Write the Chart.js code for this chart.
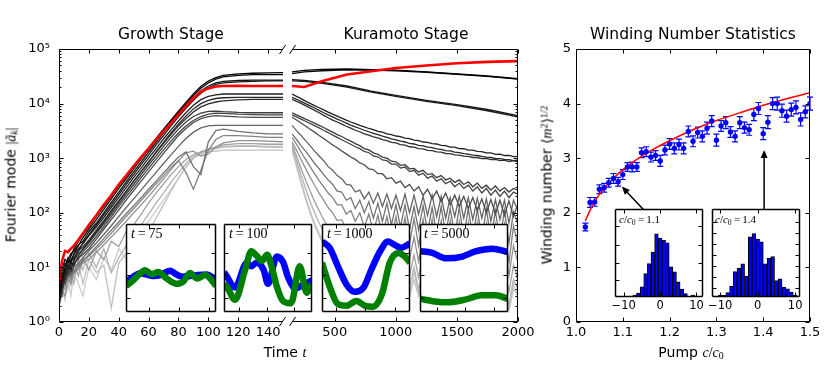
<!DOCTYPE html>
<html>
<head>
<meta charset="utf-8">
<script src="https://cdn.jsdelivr.net/npm/chart.js@4.4.1/dist/chart.umd.min.js"></script>
<style>
body { margin:0; background:#fff; }
#fig { position:relative; width:830px; height:371px; background:#fff; overflow:hidden; font-family:'DejaVu Sans', sans-serif; }
#fig canvas { position:absolute; left:0; top:0; }
.lab { position:absolute; white-space:nowrap; color:#000; z-index:10; line-height:1; }
.c { transform:translate(-50%,-50%); }
.rot { transform:translate(-50%,-50%) rotate(-90deg); }
.m { font-family:'Liberation Serif','DejaVu Serif',serif; }
.sub { font-size:.7em; position:relative; top:.25em; }
.sup { font-size:.7em; position:relative; top:-.45em; }
.title { font-size:15.5px; }
.ax { font-size:14px; }
.ins { font-size:14px; }
.hin { font-size:11px; }
</style>
</head>
<body>
<div id="fig">
  <div class="lab c title" style="left:171px;top:35px">Growth Stage</div>
  <div class="lab c title" style="left:406px;top:35px">Kuramoto Stage</div>
  <div class="lab c title" style="left:693px;top:35px">Winding Number Statistics</div>
  <div class="lab c ax" style="left:285px;top:352px">Time <span class="m"><i>t</i></span></div>
  <div class="lab c ax" style="left:691px;top:352px">Pump <span class="m"><i>c</i>/<i>c</i><span class="sub">0</span></span></div>
  <div class="lab rot ax" style="left:11px;top:185px">Fourier mode <span class="m">|<i>ã</i><span class="sub"><i>k</i></span>|</span></div>
  <div class="lab rot ax" style="left:547px;top:185px">Winding number <span class="m">⟨<i>m</i><span class="sup">2</span>⟩<span class="sup">1/2</span></span></div>
  <div class="lab m ins" style="left:131px;top:227px"><i>t</i>&thinsp;=&thinsp;75</div>
  <div class="lab m ins" style="left:229px;top:227px"><i>t</i>&thinsp;=&thinsp;100</div>
  <div class="lab m ins" style="left:327px;top:227px"><i>t</i>&thinsp;=&thinsp;1000</div>
  <div class="lab m ins" style="left:424px;top:227px"><i>t</i>&thinsp;=&thinsp;5000</div>
  <div class="lab m hin" style="left:619px;top:214px"><i>c</i>/<i>c</i><span class="sub">0</span>&thinsp;=&thinsp;1.1</div>
  <div class="lab m hin" style="left:715px;top:214px"><i>c</i>/<i>c</i><span class="sub">0</span>&thinsp;=&thinsp;1.4</div>
</div>
<script>
// ---- growth stage (t = 0..150) ----
const tGrow = [0, 2, 4, 6, 8, 10, 13, 16, 20, 25, 30, 35, 40, 45, 50, 55, 60, 65, 70, 75, 80, 85, 90, 95, 100, 105, 110, 120, 130, 140, 150];
const redGrow = [5, 13, 20, 19, 22, 25, 32, 42, 60, 90, 140, 210, 330, 480, 720, 1050, 1500, 2200, 3100, 4400, 6300, 9000, 12500, 16500, 19000, 20500, 21000, 21200, 21000, 21000, 21000];
const growthModes = [
  [4, 9, 14, 12, 16, 22, 30, 40, 55, 85, 130, 200, 310, 470, 700, 1050, 1550, 2300, 3400, 5000, 7300, 10500, 15000, 20500, 26000, 30000, 33000, 35000, 36000, 36500, 37000],
  [3, 6, 10, 15, 12, 18, 25, 35, 50, 75, 115, 180, 280, 420, 640, 960, 1450, 2150, 3200, 4700, 6800, 9800, 14000, 19000, 24000, 28000, 31000, 33000, 34000, 34000, 34000],
  [6, 10, 8, 14, 18, 20, 26, 30, 45, 65, 100, 155, 240, 370, 560, 850, 1300, 1950, 2900, 4300, 6300, 9000, 12500, 17000, 21000, 24000, 25500, 26500, 27000, 27000, 27000],
  [2.5, 5, 8, 11, 9, 14, 20, 28, 40, 60, 92, 140, 215, 330, 500, 760, 1150, 1750, 2600, 3900, 5700, 8200, 11500, 15500, 19500, 22500, 24000, 25000, 25500, 26000, 26000],
  [3.5, 7, 12, 10, 14, 17, 22, 27, 38, 55, 82, 125, 190, 290, 440, 660, 1000, 1500, 2250, 3300, 4800, 6800, 9300, 11800, 13500, 14500, 15000, 15000, 15000, 15000, 15000],
  [2, 4, 7, 9, 12, 11, 16, 22, 30, 45, 68, 105, 160, 245, 375, 570, 860, 1300, 1950, 2900, 4200, 5900, 8000, 10000, 11500, 12400, 12800, 13000, 13000, 13000, 13000],
  [5, 8, 6, 10, 13, 15, 20, 24, 32, 48, 72, 110, 165, 250, 380, 570, 850, 1270, 1880, 2750, 3900, 5300, 7000, 8700, 9900, 10700, 11200, 11700, 12000, 12000, 12000],
  [3, 5, 9, 7, 10, 13, 18, 21, 28, 42, 63, 95, 145, 220, 330, 500, 750, 1100, 1650, 2400, 3400, 4600, 5800, 6700, 7200, 7300, 7100, 6900, 6800, 6800, 6800],
  [2.5, 6, 5, 8, 11, 12, 14, 19, 25, 37, 56, 85, 130, 195, 290, 440, 650, 960, 1420, 2050, 2900, 3900, 4900, 5800, 6400, 6700, 6600, 6400, 6300, 6200, 6200],
  [4, 3, 7, 9, 8, 11, 15, 17, 22, 33, 50, 75, 112, 170, 255, 380, 560, 830, 1230, 1800, 2600, 3500, 4500, 5300, 5800, 6000, 5900, 5700, 5600, 5600, 5600],
  [3, 7, 5, 9, 7, 10, 12, 15, 20, 28, 40, 58, 85, 125, 180, 260, 380, 550, 800, 1150, 1650, 2300, 3000, 3600, 3900, 4000, 4000, 4000, 4000, 4000, 4000],
  [2, 5, 8, 6, 9, 8, 11, 13, 17, 24, 34, 48, 68, 96, 135, 190, 270, 380, 540, 760, 1050, 1300, 700, 500, 2000, 3200, 3400, 3100, 2900, 2800, 2800],
  [3, 4, 6, 9, 6, 9, 10, 14, 16, 22, 30, 42, 60, 85, 120, 170, 240, 340, 480, 680, 900, 550, 270, 600, 1400, 2200, 2600, 2600, 2500, 2400, 2400],
  [2, 4, 3, 6, 5, 8, 9, 12, 14, 19, 26, 36, 50, 70, 100, 140, 200, 290, 420, 620, 900, 1250, 1350, 1100, 1200, 1600, 1900, 2100, 2100, 2050, 2000],
  [2.5, 6, 4, 10, 5, 12, 7, 15, 9, 20, 14, 30, 24, 45, 60, 95, 150, 230, 340, 500, 700, 950, 1150, 1300, 1450, 1600, 1750, 1850, 1850, 1800, 1800],
  [3, 7, 4, 12, 8, 5, 14, 9, 18, 10, 22, 8, 15, 25, 40, 60, 95, 150, 230, 360, 540, 800, 1050, 1250, 1400, 1500, 1600, 1650, 1650, 1600, 1600],
  [2, 3, 8, 4, 10, 6, 12, 5, 14, 8, 11, 1.8, 12, 18, 15, 28, 45, 80, 140, 250, 430, 700, 1000, 1200, 1300, 1350, 1400, 1400, 1400, 1400, 1400],
  [1.8, 4, 2.5, 6, 3, 8, 5, 3, 10, 6, 15, 9, 22, 14, 30, 45, 70, 110, 170, 270, 430, 680, 1000, 1300, 1500, 1600, 1650, 1700, 1700, 1650, 1650]
];

// ---- Kuramoto stage (t = 150..2000) ----
const tKuraCoarse = [150, 250, 400, 600, 800, 1000, 1250, 1500, 1750, 2000];
const redKura = [21000, 20200, 26000, 34000, 39000, 45000, 50000, 55000, 58000, 60000];
const kuraSmooth = [
  [38000, 40500, 42500, 43000, 42000, 41000, 38000, 35000, 32000, 28500],
  [35500, 38000, 40000, 41500, 41000, 40000, 37500, 34500, 31500, 28000],
  [27500, 26500, 24500, 21000, 17000, 14200, 11500, 9600, 7800, 6000],
  [26000, 25500, 23500, 20000, 16300, 13600, 11000, 9200, 7400, 5700]
];
const tKuraFine = [150, 187, 224, 261, 298, 335, 372, 409, 446, 483, 520, 557, 594, 631, 668, 705, 742, 779, 816, 853, 890, 927, 964, 1001, 1038, 1075, 1112, 1149, 1186, 1223, 1260, 1297, 1334, 1371, 1408, 1445, 1482, 1519, 1556, 1593, 1630, 1667, 1704, 1741, 1778, 1815, 1852, 1889, 1926, 1963, 2000];
const kuraFine = [
  [15000, 13600, 12300, 11100, 10100, 9200, 8400, 7700, 7000, 6400, 5900, 5400, 5000, 4600, 4300, 4000, 3750, 3500, 3350, 3100, 3000, 2800, 2700, 2550, 2480, 2330, 2280, 2150, 2100, 1980, 1950, 1850, 1820, 1720, 1700, 1600, 1590, 1500, 1490, 1400, 1400, 1330, 1320, 1250, 1250, 1180, 1190, 1120, 1130, 1070, 1080],
  [13000, 12000, 11000, 10000, 9100, 8300, 7500, 6800, 6200, 5700, 5200, 4800, 4400, 4050, 3750, 3500, 3250, 3050, 2850, 2700, 2530, 2400, 2260, 2170, 2050, 1980, 1870, 1820, 1720, 1680, 1590, 1560, 1480, 1450, 1380, 1360, 1290, 1270, 1210, 1190, 1140, 1120, 1080, 1050, 1030, 990, 980, 950, 940, 900, 920],
  [12000, 11000, 10100, 9200, 8300, 7500, 6800, 6100, 5500, 5000, 4600, 4200, 3850, 3550, 3250, 3050, 2800, 2650, 2450, 2350, 2180, 2100, 1950, 1900, 1780, 1730, 1620, 1600, 1500, 1480, 1390, 1380, 1300, 1290, 1220, 1210, 1150, 1140, 1090, 1080, 1030, 1030, 980, 990, 940, 950, 900, 920, 870, 900, 880],
  [6800, 6200, 5700, 5200, 4800, 4400, 4000, 3650, 3300, 3000, 2700, 2500, 2250, 2050, 1850, 1700, 1500, 1420, 1250, 1180, 1050, 1000, 880, 860, 740, 760, 640, 650, 560, 600, 500, 520, 440, 480, 400, 430, 360, 400, 330, 370, 300, 350, 280, 320, 260, 310, 250, 290, 240, 280, 260],
  [6200, 5700, 5200, 4750, 4350, 3950, 3600, 3250, 2950, 2650, 2400, 2180, 1980, 1800, 1620, 1500, 1330, 1260, 1100, 1060, 930, 900, 780, 780, 660, 690, 570, 600, 490, 530, 430, 470, 380, 420, 340, 380, 300, 350, 280, 320, 250, 300, 230, 280, 210, 260, 200, 250, 190, 240, 220],
  [5600, 5000, 4400, 3900, 3400, 3000, 2600, 2300, 2000, 1750, 1550, 1350, 1200, 1050, 950, 820, 760, 640, 620, 520, 520, 420, 440, 350, 380, 290, 330, 250, 300, 210, 270, 180, 250, 160, 230, 140, 210, 130, 200, 120, 190, 110, 180, 100, 175, 95, 170, 90, 165, 85, 150],
  [4000, 3200, 2600, 2100, 1700, 1350, 1100, 900, 700, 600, 480, 420, 330, 320, 240, 260, 180, 240, 150, 230, 130, 220, 120, 210, 110, 220, 100, 210, 95, 200, 90, 210, 85, 200, 80, 190, 85, 200, 80, 190, 75, 185, 80, 180, 70, 175, 75, 170, 65, 170, 110],
  [2800, 2200, 1700, 1350, 1050, 800, 640, 500, 400, 330, 250, 240, 170, 190, 120, 170, 100, 160, 80, 150, 70, 150, 60, 140, 55, 140, 50, 130, 48, 135, 45, 125, 42, 130, 40, 120, 38, 125, 36, 120, 35, 115, 34, 118, 32, 110, 30, 112, 28, 105, 60],
  [2400, 1800, 1300, 950, 700, 520, 390, 300, 230, 190, 140, 140, 95, 110, 70, 100, 55, 95, 45, 90, 38, 85, 33, 85, 30, 80, 27, 78, 25, 75, 22, 75, 20, 70, 19, 70, 18, 68, 17, 65, 16, 65, 15, 62, 14, 60, 13, 60, 12, 58, 25],
  [2000, 1400, 950, 650, 450, 320, 230, 170, 125, 100, 72, 75, 50, 60, 38, 52, 30, 48, 25, 45, 21, 42, 18, 40, 16, 38, 14, 36, 13, 35, 12, 34, 11, 33, 10, 32, 9.5, 31, 9, 30, 8.5, 29, 8, 28, 7.5, 27, 7, 26, 7, 25, 12],
  [1800, 1100, 650, 400, 250, 160, 110, 75, 55, 45, 32, 38, 24, 30, 18, 26, 14, 24, 11, 22, 9.5, 20, 8.5, 19, 7.5, 18, 7, 17, 6.5, 16, 6, 16, 5.5, 15, 5, 14, 5, 14, 4.5, 13, 4.5, 13, 4, 12, 4, 12, 3.5, 11, 3.5, 11, 6],
  [1600, 900, 500, 280, 160, 100, 65, 45, 33, 26, 20, 22, 15, 18, 11, 15, 9, 14, 7, 13, 6, 12, 5.5, 11, 5, 10, 4.5, 10, 4, 9, 4, 9, 3.5, 8, 3.5, 8, 3, 8, 3, 7, 3, 7, 2.5, 7, 2.5, 6, 2.5, 6, 2, 6, 4],
  [1400, 700, 350, 180, 100, 60, 38, 26, 20, 16, 12, 14, 9, 11, 7, 10, 6, 9, 5, 8, 4.5, 8, 4, 7, 3.5, 7, 3, 6, 3, 6, 2.8, 6, 2.5, 5, 2.5, 5, 2.2, 5, 2, 5, 2, 4.5, 2, 4.5, 1.8, 4, 1.8, 4, 1.6, 4, 3],
  [1650, 800, 400, 200, 110, 65, 42, 30, 22, 18, 14, 16, 11, 13, 9, 12, 7, 11, 6, 10, 5, 9, 4.5, 9, 4, 8, 3.5, 8, 3.5, 7, 3, 7, 3, 6, 2.8, 6, 2.5, 6, 2.5, 5.5, 2.2, 5.5, 2.2, 5, 2, 5, 2, 5, 1.8, 5, 3]
];
const growthTicks = [0, 20, 40, 60, 80, 100, 120, 140];
const kuraTicks = [500, 1000, 1500, 2000];
const decadeTicks = [1, 10, 100, 1000, 10000, 100000];

// ---- spatial profiles in the insets (normalised) ----
const x75Blue = [0, .08, .16, .23, .30, .38, .45, .49, .54, .62, .71, .80, .90, .97, 1];
const y75Blue = [.34, .40, .44, .425, .41, .42, .455, .47, .44, .40, .41, .42, .425, .39, .37];
const x75Green = [0, .08, .16, .21, .29, .36, .43, .51, .56, .64, .71, .79, .88, 1];
const y75Green = [.295, .36, .44, .474, .43, .455, .40, .34, .32, .35, .444, .38, .42, .30];
const x100Blue = [0, .02, .125, .26, .31, .37, .45, .50, .60, .67, .73, .81, .90, 1];
const y100Blue = [.45, .425, .28, .56, .52, .56, .48, .32, .63, .57, .39, .27, .31, .36];
const x100Green = [0, .03, .125, .24, .31, .37, .43, .49, .54, .60, .67, .75, .78, .86, .94, 1];
const y100Green = [.31, .29, .14, .48, .69, .64, .58, .65, .52, .29, .125, .10, .14, .52, .22, .32];
const x1000Blue = [0, .087, .18, .28, .37, .47, .56, .66, .75, .83, .90, 1];
const y1000Blue = [.80, .73, .52, .31, .23, .275, .48, .69, .80, .76, .73, .78];
const x1000Green = [0, .087, .18, .28, .39, .49, .58, .68, .77, .87, .94, 1];
const y1000Green = [.56, .29, .09, .07, .125, .07, .06, .20, .56, .67, .63, .56];
const x5000Blue = [0, .13, .30, .48, .63, .82, 1];
const y5000Blue = [.69, .675, .61, .63, .69, .72, .68];
const x5000Green = [0, .17, .32, .51, .70, .86, 1];
const y5000Green = [.15, .12, .11, .14, .19, .19, .15];

// ---- winding number statistics ----
const pump = [1.02, 1.03, 1.04, 1.05, 1.06, 1.07, 1.08, 1.09, 1.10, 1.11, 1.12, 1.13, 1.14, 1.15, 1.16, 1.17, 1.18, 1.19, 1.20, 1.21, 1.22, 1.23, 1.24, 1.25, 1.26, 1.27, 1.28, 1.29, 1.30, 1.31, 1.32, 1.33, 1.34, 1.35, 1.36, 1.37, 1.38, 1.39, 1.40, 1.41, 1.42, 1.43, 1.44, 1.45, 1.46, 1.47, 1.48, 1.49, 1.50];
const winding = [1.74, 2.19, 2.20, 2.43, 2.46, 2.55, 2.63, 2.57, 2.70, 2.84, 2.84, 2.84, 3.10, 3.12, 3.02, 3.05, 2.95, 3.15, 3.26, 3.18, 3.25, 3.18, 3.49, 3.31, 3.47, 3.40, 3.55, 3.68, 3.33, 3.59, 3.65, 3.48, 3.40, 3.65, 3.56, 3.52, 3.80, 3.91, 3.45, 3.66, 4.00, 4.00, 3.87, 3.77, 3.89, 3.93, 3.71, 3.85, 4.00];
const windErr = [0.07, 0.09, 0.08, 0.08, 0.08, 0.08, 0.09, 0.08, 0.09, 0.08, 0.09, 0.08, 0.09, 0.09, 0.09, 0.09, 0.10, 0.09, 0.10, 0.10, 0.10, 0.10, 0.10, 0.10, 0.10, 0.10, 0.11, 0.10, 0.11, 0.10, 0.11, 0.10, 0.10, 0.11, 0.10, 0.10, 0.11, 0.11, 0.11, 0.12, 0.11, 0.12, 0.12, 0.11, 0.12, 0.12, 0.12, 0.11, 0.12];
const fitPump = [1.02, 1.03, 1.04, 1.06, 1.08, 1.10, 1.13, 1.16, 1.20, 1.25, 1.30, 1.35, 1.40, 1.45, 1.50];
const fitWinding = [1.85, 2.05, 2.21, 2.45, 2.63, 2.79, 2.98, 3.14, 3.32, 3.52, 3.69, 3.83, 3.97, 4.09, 4.20];
const pumpTicks = [1.0, 1.1, 1.2, 1.3, 1.4, 1.5];
const windTicks = [0, 1, 2, 3, 4, 5];

// ---- histograms of m ----
const bins11 = [-7, -6, -5, -4, -3, -2, -1, 0, 1, 2, 3, 4, 5, 6, 7, 8, 9];
const counts11 = [6, 11, 31, 71, 101, 136, 191, 178, 171, 164, 91, 76, 46, 24, 10, 0, 6];
const bins14 = [-10, -9, -8, -7, -6, -5, -4, -3, -2, -1, 0, 1, 2, 3, 4, 5, 6, 7, 8, 9, 10];
const counts14 = [5, 5, 13, 32, 77, 87, 100, 63, 182, 192, 175, 167, 100, 117, 122, 50, 55, 30, 25, 15, 5];
const histTicks = [-10, 0, 10];

Chart.defaults.font.family = 'DejaVu Sans';
Chart.defaults.color = '#000';
const fig = document.getElementById('fig');
const modeGrey = [0, 10, 20, 26, 34, 40, 46, 60, 68, 76, 100, 115, 130, 145, 162, 178, 192, 204];
const grey = g => `rgb(${g},${g},${g})`;

// frame, inward ticks, axis breaks and arrows
function frame(o) {
  return {
    id: 'frame',
    beforeDraw(chart) {
      if (!o.fill) return;
      const a = chart.chartArea, ctx = chart.ctx;
      ctx.save(); ctx.fillStyle = '#fff';
      ctx.fillRect(a.left, a.top, a.right - a.left, a.bottom - a.top);
      ctx.restore();
    },
    afterDraw(chart) {
      const a = chart.chartArea, ctx = chart.ctx;
      const sx = chart.scales.x, sy = chart.scales.y;
      const L = Math.round(a.left) + 0.5, R = Math.round(a.right) - 0.5;
      const T = Math.round(a.top) + 0.5, B = Math.round(a.bottom) - 0.5;
      const seg = (x0, y0, x1, y1) => { ctx.beginPath(); ctx.moveTo(x0, y0); ctx.lineTo(x1, y1); ctx.stroke(); };
      ctx.save();
      ctx.strokeStyle = '#000'; ctx.fillStyle = '#000'; ctx.lineWidth = 1;
      const ticks = (vals, len, axis, sides) => (vals || []).forEach(v => {
        if (axis === 'x') {
          const p = Math.round(sx.getPixelForValue(v)) + 0.5;
          if (sides.includes('b')) seg(p, B, p, B - len);
          if (sides.includes('t')) seg(p, T, p, T + len);
        } else {
          const p = Math.round(sy.getPixelForValue(v)) + 0.5;
          if (sides.includes('l')) seg(L, p, L + len, p);
          if (sides.includes('r')) seg(R, p, R - len, p);
        }
      });
      ticks(o.xMajor, 4, 'x', o.xSides || 'tb');
      ticks(o.yMajor, 4, 'y', o.ySides || 'lr');
      ticks(o.yMinor, 2, 'y', o.ySides || 'lr');
      ctx.lineWidth = o.lw || 1;
      const s = o.sides || 'tblr';
      if (s.includes('t')) seg(L, T, R, T);
      if (s.includes('b')) seg(L, B, R, B);
      if (s.includes('l')) seg(L, T, L, B);
      if (s.includes('r')) seg(R, T, R, B);
      if (o.brk) {
        const x = o.brk === 'r' ? R : L;
        [T, B].forEach(y => seg(x - 3, y + 4.5, x + 3, y - 4.5));
      }
      (o.arrows || []).forEach(([x0, y0, x1, y1]) => {
        const px0 = sx.getPixelForValue(x0), py0 = sy.getPixelForValue(y0);
        const px1 = sx.getPixelForValue(x1), py1 = sy.getPixelForValue(y1);
        const d = Math.hypot(px1 - px0, py1 - py0), ux = (px1 - px0) / d, uy = (py1 - py0) / d;
        ctx.lineWidth = 1.5;
        seg(px0, py0, px1 - ux * 7, py1 - uy * 7);
        ctx.beginPath();
        ctx.moveTo(px1, py1);
        ctx.lineTo(px1 - ux * 8 - uy * 3.5, py1 - uy * 8 + ux * 3.5);
        ctx.lineTo(px1 - ux * 8 + uy * 3.5, py1 - uy * 8 - ux * 3.5);
        ctx.closePath(); ctx.fill();
      });
      ctx.restore();
    }
  };
}

const errorBars = {
  id: 'errbars',
  beforeDatasetsDraw(chart) {
    const ctx = chart.ctx, sx = chart.scales.x, sy = chart.scales.y;
    ctx.save();
    ctx.strokeStyle = '#0000ff'; ctx.lineWidth = 1.2;
    pump.forEach((p, i) => {
      const x = sx.getPixelForValue(p);
      const y0 = sy.getPixelForValue(winding[i] - windErr[i]);
      const y1 = sy.getPixelForValue(winding[i] + windErr[i]);
      ctx.beginPath();
      ctx.moveTo(x, y0); ctx.lineTo(x, y1);
      ctx.moveTo(x - 3, y0); ctx.lineTo(x + 3, y0);
      ctx.moveTo(x - 3, y1); ctx.lineTo(x + 3, y1);
      ctx.stroke();
    });
    ctx.restore();
  }
};

function addChart(cfg) {
  const c = document.createElement('canvas');
  c.width = 830; c.height = 371;
  fig.appendChild(c);
  return new Chart(c, cfg);
}

function axis(type, min, max, opts) {
  opts = opts || {};
  const a = {
    type, min, max, display: !!opts.ticks, offset: false,
    grid: { display: false, drawTicks: false }, border: { display: false },
    ticks: { padding: opts.pad || 3, color: '#000', font: { size: opts.size || 13 }, maxRotation: 0, minRotation: 0, autoSkip: false, callback: opts.fmt }
  };
  if (opts.ticks) {
    a.afterBuildTicks = s => { s.ticks = opts.ticks.map(v => ({ value: v })); };
    if (opts.width) a.afterFit = s => { s.width = opts.width; };
    if (opts.height) a.afterFit = s => { s.height = opts.height; };
  }
  return a;
}

function baseOptions(padding, scales) {
  return {
    responsive: false, animation: false, devicePixelRatio: 1, events: [],
    layout: { padding },
    plugins: { legend: { display: false }, tooltip: { enabled: false } },
    scales
  };
}

const line = (xs, ys, color, width) => ({
  data: xs.map((x, i) => ({ x, y: ys[i] })),
  borderColor: color, borderWidth: width, pointRadius: 0, fill: false, tension: 0, clip: 0
});

const sup = ['\u2070', '\u00b9', '\u00b2', '\u00b3', '\u2074', '\u2075'];
const decadeLabel = v => '10' + sup[Math.round(Math.log10(v))];
const logMinor = [];
for (let d = 1; d < 1e5; d *= 10) for (let k = 2; k < 10; k++) logMinor.push(d * k);

// growth stage panel
addChart({
  type: 'line',
  data: { datasets: [line(tGrow, redGrow, '#ff0000', 2.6)].concat(
    growthModes.map((m, i) => line(tGrow, m, grey(modeGrey[i]), 1.3))) },
  options: baseOptions({ left: 0, top: 49, right: 547, bottom: 29 }, {
    x: axis('linear', 0, 150, { ticks: growthTicks, height: 20, pad: 3 }),
    y: axis('logarithmic', 1, 1e5, { ticks: decadeTicks, width: 59, pad: 9, fmt: decadeLabel })
  }),
  plugins: [frame({ sides: 'tbl', ySides: 'l', xMajor: growthTicks, yMajor: decadeTicks, yMinor: logMinor, brk: 'r' })]
});

// Kuramoto stage panel
addChart({
  type: 'line',
  data: { datasets: [line(tKuraCoarse, redKura, '#ff0000', 2.6)]
    .concat(kuraSmooth.map((m, i) => line(tKuraCoarse, m, grey(modeGrey[i]), 1.3)))
    .concat(kuraFine.map((m, i) => line(tKuraFine, m, grey(modeGrey[i + 4]), 1.3))) },
  options: baseOptions({ left: 292, top: 49, right: 312, bottom: 29 }, {
    x: axis('linear', 150, 2000, { ticks: kuraTicks, height: 20, pad: 3 }),
    y: axis('logarithmic', 1, 1e5)
  }),
  plugins: [frame({ sides: 'tbr', ySides: 'r', xMajor: kuraTicks, yMajor: decadeTicks, yMinor: logMinor, brk: 'l' })]
});

// winding number panel
addChart({
  type: 'line',
  data: { datasets: [
    { data: pump.map((x, i) => ({ x, y: winding[i] })), showLine: false, pointRadius: 2.7,
      pointBackgroundColor: '#0000ff', pointBorderWidth: 0, clip: 0 },
    { data: fitPump.map((x, i) => ({ x, y: fitWinding[i] })), borderColor: '#ff0000', borderWidth: 1.5,
      pointRadius: 0, cubicInterpolationMode: 'monotone', clip: 0 }
  ] },
  options: baseOptions({ left: 546, top: 49, right: 20, bottom: 29 }, {
    x: axis('linear', 1.0, 1.5, { ticks: pumpTicks, height: 20, pad: 3, fmt: v => v.toFixed(1) }),
    y: axis('linear', 0, 5, { ticks: windTicks, width: 30, pad: 5 })
  }),
  plugins: [errorBars, frame({ xMajor: pumpTicks, yMajor: windTicks,
    arrows: [[1.144, 2.06, 1.098, 2.48], [1.402, 2.06, 1.402, 3.15]] })]
});

// spatial-profile insets
function profileInset(left, right, xB, yB, xG, yG, xt) {
  addChart({
    type: 'line',
    data: { datasets: [
      { data: xG.map((x, i) => ({ x, y: yG[i] })), borderColor: '#008000', borderWidth: 6.5, pointRadius: 0, cubicInterpolationMode: 'monotone', clip: 0 },
      { data: xB.map((x, i) => ({ x, y: yB[i] })), borderColor: '#0000ff', borderWidth: 6.5, pointRadius: 0, cubicInterpolationMode: 'monotone', clip: 0 }
    ] },
    options: baseOptions({ left, top: 224, right: 830 - right, bottom: 59 }, {
      x: axis('linear', 0, 1), y: axis('linear', 0, 1)
    }),
    plugins: [frame({ fill: true, lw: 1.5, xMajor: xt, yMajor: [0.16, 0.42, 0.67] })]
  });
}
profileInset(126, 216, x75Blue, y75Blue, x75Green, y75Green, [0.26, 0.59, 0.92]);
profileInset(224, 312, x100Blue, y100Blue, x100Green, y100Green, [0.17, 0.49, 0.80]);
profileInset(322, 410, x1000Blue, y1000Blue, x1000Green, y1000Green, [0.16, 0.49, 0.83]);
profileInset(420, 508, x5000Blue, y5000Blue, x5000Green, y5000Green, [0.19, 0.51, 0.84]);

// histogram insets
function histInset(left, right, xmin, xmax, bins, counts, yt) {
  addChart({
    type: 'bar',
    data: { datasets: [{ data: bins.map((x, i) => ({ x, y: counts[i] })), backgroundColor: '#0000ff',
      borderColor: '#000', borderWidth: 1, borderSkipped: false, barPercentage: 1, categoryPercentage: 1, clip: 0 }] },
    options: baseOptions({ left, top: 209, right: 830 - right, bottom: 54 }, {
      x: axis('linear', xmin, xmax, { ticks: histTicks, height: 20, pad: 2, size: 11.5, fmt: v => v < 0 ? '\u2212' + Math.abs(v) : String(v) }),
      y: axis('linear', 0, 266)
    }),
    plugins: [frame({ fill: true, lw: 1.5, xMajor: histTicks, yMajor: yt })]
  });
}
histInset(615, 703, -12.4, 11.8, bins11, counts11, [52, 104, 158, 214]);
histInset(712, 800, -12.2, 11.3, bins14, counts14, [27, 60, 94, 127, 160, 194, 228]);
</script>
</body>
</html>
